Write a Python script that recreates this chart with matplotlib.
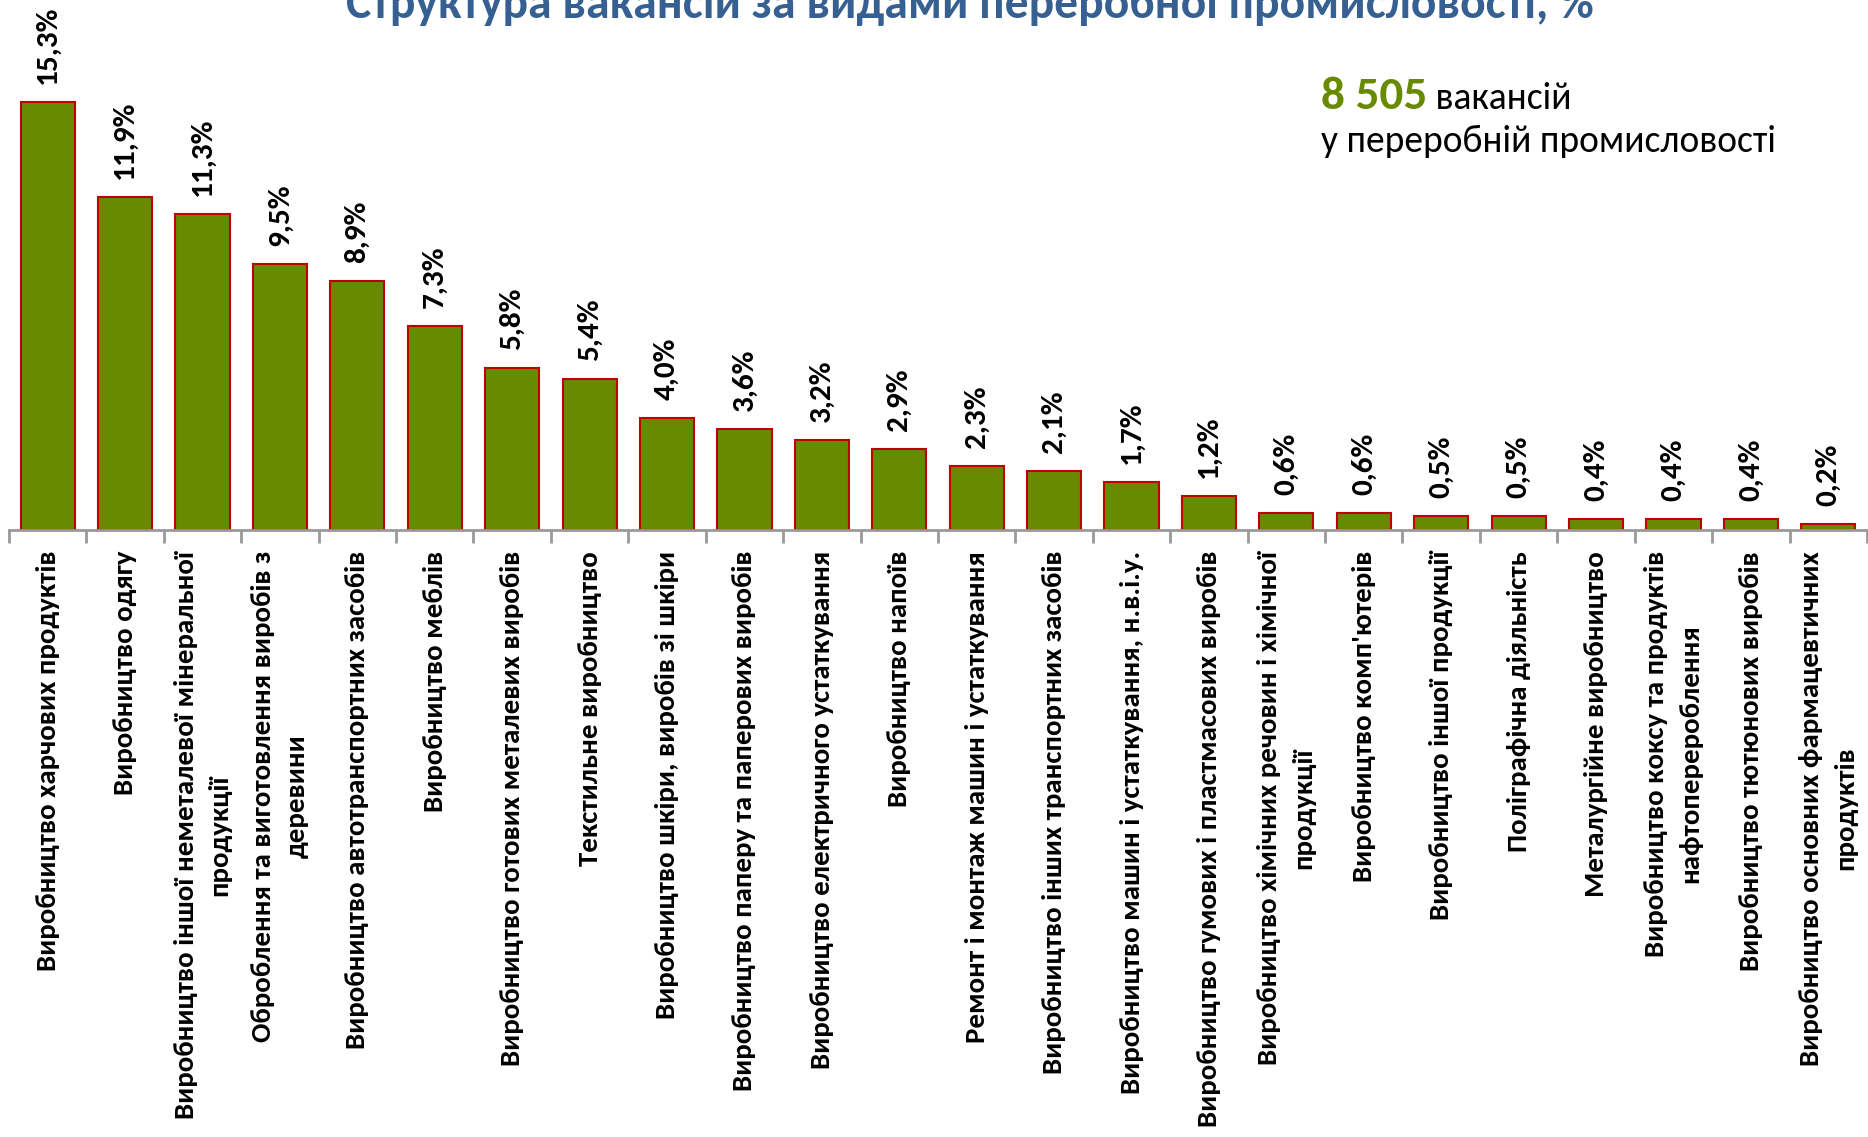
import matplotlib
matplotlib.use("Agg")
import matplotlib.pyplot as plt

plt.rcParams['font.family'] = ['Carlito', 'DejaVu Sans']

categories = [
    "Виробництво харчових продуктів",
    "Виробництво одягу",
    "Виробництво іншої неметалевої мінеральної\nпродукції",
    "Оброблення та виготовлення виробів з\nдеревини",
    "Виробництво автотранспортних засобів",
    "Виробництво меблів",
    "Виробництво готових металевих виробів",
    "Текстильне виробництво",
    "Виробництво шкіри, виробів зі шкіри",
    "Виробництво паперу та паперових виробів",
    "Виробництво електричного устаткування",
    "Виробництво напоїв",
    "Ремонт і монтаж машин і устаткування",
    "Виробництво інших транспортних засобів",
    "Виробництво машин і устаткування, н.в.і.у.",
    "Виробництво гумових і пластмасових виробів",
    "Виробництво хімічних речовин і хімічної\nпродукції",
    "Виробництво комп'ютерів",
    "Виробництво іншої продукції",
    "Поліграфічна діяльність",
    "Металургійне виробництво",
    "Виробництво коксу та продуктів\nнафтоперероблення",
    "Виробництво тютюнових виробів",
    "Виробництво основних фармацевтичних\nпродуктів",
]
values = [15.3, 11.9, 11.3, 9.5, 8.9, 7.3, 5.8, 5.4, 4.0, 3.6, 3.2, 2.9,
          2.3, 2.1, 1.7, 1.2, 0.6, 0.6, 0.5, 0.5, 0.4, 0.4, 0.4, 0.2]
value_labels = [f"{v:.1f}%".replace(".", ",") for v in values]

title = "Структура вакансій за видами переробної промисловості, %"
total_number = "8 505"
total_word = " вакансій"
total_line2 = "у переробній промисловості"

GREEN = "#688A00"
RED = "#C00000"
TITLE_BLUE = "#376092"
AXIS_GRAY = "#999999"

W, H = 1868, 1137
fig = plt.figure(figsize=(W / 100, H / 100), dpi=100)
left = 9 / W
right = 1867 / W
bottom = (H - 530) / H
height_px = 18 * 28.0
ax = fig.add_axes([left, bottom, right - left, height_px / H])

x = list(range(len(values)))
ax.bar(x, values, width=0.7, color=GREEN, edgecolor=RED, linewidth=1.5, zorder=2)
ax.set_xlim(-0.5, len(values) - 0.5)
ax.set_ylim(0, 18)

for s in ["top", "right", "left"]:
    ax.spines[s].set_visible(False)
ax.spines["bottom"].set_color(AXIS_GRAY)
ax.spines["bottom"].set_linewidth(2)
ax.set_yticks([])

ax.set_xticks(x)
ax.set_xticklabels(categories, rotation=90, fontsize=20.8, fontweight="bold",
                   linespacing=1.5)
ax.tick_params(axis="x", which="major", length=0, pad=15)
for lab in ax.get_xticklabels():
    lab.set_multialignment("center")
ax.set_xticks([i - 0.5 for i in range(len(values) + 1)], minor=True)
ax.tick_params(axis="x", which="minor", length=9, width=2, color=AXIS_GRAY, direction="out")

for xi, v, lab in zip(x, values, value_labels):
    ax.annotate(lab, (xi, v), xytext=(0, 13), textcoords="offset points",
                rotation=90, ha="center", va="bottom", fontsize=22.5,
                fontweight="bold", color="black")

fig.text(970 / W, 1 - 18 / H, title, ha="center", va="baseline", fontsize=34.3,
         fontweight="bold", color=TITLE_BLUE)

t1 = fig.text(1321 / W, 1 - 109 / H, total_number, ha="left", va="baseline",
              fontsize=34, fontweight="bold", color=GREEN)
fig.canvas.draw()
bb = t1.get_window_extent()
fig.text(bb.x1 / W, 1 - 109 / H, total_word, ha="left", va="baseline",
         fontsize=27, color="black")
fig.text(1321 / W, 1 - 152 / H, total_line2, ha="left", va="baseline",
         fontsize=27, color="black")

fig.savefig("out.png", dpi=100)
